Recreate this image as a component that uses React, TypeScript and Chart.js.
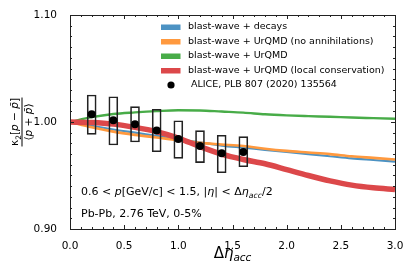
import React, { useEffect, useRef } from "react";
import { Chart, registerables } from "chart.js";
Chart.register(...registerables);

// ---------- data ----------
const etaGrid = [0, 0.2, 0.4, 0.6, 0.8, 1.0, 1.2, 1.4, 1.6, 1.8, 2.0, 2.2, 2.4, 2.6, 2.8, 3.0];
const blueDecays = [1.0, 0.9965, 0.993, 0.99, 0.987, 0.984, 0.981, 0.978, 0.976, 0.974, 0.972, 0.97, 0.968, 0.966, 0.9645, 0.963];
const orangeNoAnnihilation = [1.0, 0.995, 0.991, 0.988, 0.9855, 0.983, 0.9805, 0.979, 0.9775, 0.975, 0.973, 0.9715, 0.97, 0.968, 0.9665, 0.965];
const greenUrqmd = [1.0, 1.0045, 1.0075, 1.009, 1.0102, 1.011, 1.0108, 1.0098, 1.0088, 1.0072, 1.0062, 1.0055, 1.0049, 1.0042, 1.0036, 1.003];
const redLocalConservation = [1.0, 0.9995, 0.998, 0.995, 0.991, 0.985, 0.977, 0.97, 0.965, 0.961, 0.9555, 0.95, 0.945, 0.941, 0.9385, 0.937];

const aliceEta = [0.2, 0.4, 0.6, 0.8, 1.0, 1.2, 1.4, 1.6];
const aliceValue = [1.0072, 1.0016, 0.998, 0.992, 0.984, 0.9776, 0.9707, 0.972];
const aliceSysLow = [0.9885, 0.9785, 0.9813, 0.9722, 0.966, 0.962, 0.9526, 0.9582];
const aliceSysHigh = [1.0252, 1.0236, 1.0143, 1.0119, 1.0012, 0.9919, 0.9876, 0.9863];

const legendLabels = [
  "blast-wave + decays",
  "blast-wave + UrQMD (no annihilations)",
  "blast-wave + UrQMD",
  "blast-wave + UrQMD (local conservation)",
  "ALICE, PLB 807 (2020) 135564",
];

const xTickValues = [0, 0.5, 1.0, 1.5, 2.0, 2.5, 3.0];
const yTickValues = [0.9, 1.0, 1.1];

// ---------- style ----------
const FONT = '"DejaVu Sans"';
const C_BLUE = "rgb(76,146,195)";
const C_ORANGE = "rgb(255,153,62)";
const C_GREEN = "rgb(72,172,72)";
const C_RED = "rgb(220,72,74)";
const legendColors = [C_BLUE, C_ORANGE, C_GREEN, C_RED];

type Run = { t: string; f: string; dy?: number };
function runsWidth(ctx: CanvasRenderingContext2D, runs: Run[]) {
  let w = 0;
  for (const r of runs) {
    ctx.font = r.f;
    w += ctx.measureText(r.t).width;
  }
  return w;
}
function drawRuns(ctx: CanvasRenderingContext2D, runs: Run[], x: number, y: number, align: "left" | "center") {
  const w = runsWidth(ctx, runs);
  let cx = align === "center" ? x - w / 2 : x;
  ctx.textAlign = "left";
  ctx.textBaseline = "alphabetic";
  for (const r of runs) {
    ctx.font = r.f;
    ctx.fillText(r.t, cx, y + (r.dy || 0));
    cx += ctx.measureText(r.t).width;
  }
  return w;
}

const f = (s: number) => `${s}px ${FONT}`;
const fi = (s: number) => `italic ${s}px ${FONT}`;

const decorPlugin = {
  id: "decor",
  afterDatasetsDraw(chart: any) {
    const ctx: CanvasRenderingContext2D = chart.ctx;
    const { left, right, top, bottom } = chart.chartArea;
    const xs = chart.scales.x;
    const ys = chart.scales.y;
    ctx.save();
    ctx.fillStyle = "#000";
    ctx.strokeStyle = "#222";
    ctx.lineWidth = 1;
    // frame
    ctx.strokeRect(Math.round(left) + 0.5, Math.round(top) + 0.5, Math.round(right - left), Math.round(bottom - top));
    // ticks (inward)
    ctx.beginPath();
    for (let i = 0; i <= 30; i++) {
      const v = i / 10;
      const px = Math.round(xs.getPixelForValue(v)) + 0.5;
      const len = i % 5 === 0 ? 4 : 2;
      ctx.moveTo(px, bottom);
      ctx.lineTo(px, bottom - len);
      ctx.moveTo(px, top);
      ctx.lineTo(px, top + len);
    }
    for (let i = 0; i <= 20; i++) {
      const v = 0.9 + i / 100;
      const py = Math.round(ys.getPixelForValue(v)) + 0.5;
      const len = i % 10 === 0 ? 4 : 2;
      ctx.moveTo(left, py);
      ctx.lineTo(left + len, py);
      ctx.moveTo(right, py);
      ctx.lineTo(right - len, py);
    }
    ctx.stroke();

    // legend
    const lx = 161;
    const rowY = [27, 41.5, 56, 70.5, 85];
    for (let i = 0; i < 4; i++) {
      ctx.fillStyle = legendColors[i];
      ctx.fillRect(lx, rowY[i] - 2.5, 19.5, 5.5);
    }
    ctx.fillStyle = "#000";
    ctx.beginPath();
    ctx.arc(171, rowY[4], 3.6, 0, Math.PI * 2);
    ctx.fill();
    ctx.font = f(9.5);
    ctx.textBaseline = "middle";
    ctx.textAlign = "left";
    for (let i = 0; i < 5; i++) {
      ctx.fillText(legendLabels[i], i === 4 ? 191 : 188, rowY[i]);
    }

    // annotations
    ctx.fillStyle = "#000";
    drawRuns(
      ctx,
      [
        { t: "0.6 < ", f: f(11) },
        { t: "p", f: fi(11) },
        { t: "[GeV/c] < 1.5, |", f: f(11) },
        { t: "η", f: fi(11) },
        { t: "| < Δ", f: f(11) },
        { t: "η", f: fi(11) },
        { t: "acc", f: fi(7.8), dy: 2.5 },
        { t: "/2", f: f(11) },
      ],
      81,
      195,
      "left"
    );
    drawRuns(ctx, [{ t: "Pb-Pb, 2.76 TeV, 0-5%", f: f(11) }], 81, 217, "left");

    // x-axis title
    drawRuns(
      ctx,
      [
        { t: "Δ", f: f(15) },
        { t: "η", f: fi(15) },
        { t: "acc", f: fi(10.5), dy: 3 },
      ],
      (left + right) / 2,
      258,
      "center"
    );

    // y-axis title (fraction, rotated)
    ctx.translate(22, (top + bottom) / 2);
    ctx.rotate(-Math.PI / 2);
    const num: Run[] = [
      { t: "κ", f: f(10.5) },
      { t: "2", f: f(7.5), dy: 2.5 },
      { t: "[", f: f(10.5) },
      { t: "p", f: fi(10.5) },
      { t: " − ", f: f(10.5) },
      { t: "p\u0304", f: fi(10.5) },
      { t: "]", f: f(10.5) },
    ];
    const den: Run[] = [
      { t: "⟨", f: f(10.5) },
      { t: "p", f: fi(10.5) },
      { t: " + ", f: f(10.5) },
      { t: "p\u0304", f: fi(10.5) },
      { t: "⟩", f: f(10.5) },
    ];
    const wn = drawRuns(ctx, num, 0, -4, "center");
    const wd = drawRuns(ctx, den, 0, 9.5, "center");
    const wb = Math.max(wn, wd) + 1;
    ctx.fillRect(-wb / 2, -0.5, wb, 1);
    ctx.restore();
  },
};

const xy = (xsArr: number[], ysArr: number[]) => xsArr.map((x, i) => ({ x, y: ysArr[i] }));

export default function App() {
  const ref = useRef<HTMLCanvasElement>(null);
  useEffect(() => {
    if (!ref.current) return;
    const lineDs = (label: string, data: number[], color: string, width: number, order: number) => ({
      type: "line" as const,
      label,
      data: xy(etaGrid, data),
      borderColor: color,
      backgroundColor: color,
      borderWidth: width,
      pointRadius: 0,
      cubicInterpolationMode: "monotone" as const,
      fill: false,
      order,
      borderCapStyle: "butt" as const,
    });
    const chart = new Chart(ref.current, {
      type: "line",
      data: {
        datasets: [
          lineDs(legendLabels[0], blueDecays, C_BLUE, 2.2, 6),
          lineDs(legendLabels[1], orangeNoAnnihilation, C_ORANGE, 2.6, 5),
          lineDs(legendLabels[2], greenUrqmd, C_GREEN, 2.4, 4),
          lineDs(legendLabels[3], redLocalConservation, C_RED, 5.5, 3),
          {
            type: "bar" as const,
            label: "sys",
            data: aliceEta.map((x, i) => ({ x, y: [aliceSysLow[i], aliceSysHigh[i]] })) as any,
            backgroundColor: "rgba(0,0,0,0)",
            borderColor: "#222",
            borderWidth: 1,
            borderSkipped: false,
            barThickness: 9,
            grouped: false,
            order: 2,
          } as any,
          {
            type: "line" as const,
            label: legendLabels[4],
            data: xy(aliceEta, aliceValue),
            showLine: false,
            pointRadius: 4,
            pointBackgroundColor: "#000",
            pointBorderWidth: 0,
            borderColor: "#000",
            order: 1,
          },
        ],
      },
      options: {
        animation: false,
        responsive: false,
        maintainAspectRatio: false,
        layout: { padding: { left: 0, top: 15, right: 20, bottom: 0 } },
        plugins: { legend: { display: false }, tooltip: { enabled: false } },
        scales: {
          x: {
            type: "linear",
            min: 0,
            max: 3,
            offset: false,
            grid: { display: false },
            border: { display: false },
            afterBuildTicks: (s: any) => {
              s.ticks = xTickValues.map((v) => ({ value: v }));
            },
            ticks: {
              callback: (v: any) => Number(v).toFixed(1),
              font: { family: "DejaVu Sans", size: 10.5 },
              color: "#000",
              padding: 3,
              maxRotation: 0,
              autoSkip: false,
            },
            afterFit: (s: any) => {
              s.height = 48;
            },
          },
          y: {
            type: "linear",
            min: 0.9,
            max: 1.1,
            grid: { display: false },
            border: { display: false },
            afterBuildTicks: (s: any) => {
              s.ticks = yTickValues.map((v) => ({ value: v }));
            },
            ticks: {
              callback: (v: any) => Number(v).toFixed(2),
              font: { family: "DejaVu Sans", size: 10.5 },
              color: "#000",
              padding: 5,
              autoSkip: false,
            },
            afterFit: (s: any) => {
              s.width = 70;
            },
          },
        },
      } as any,
      plugins: [decorPlugin],
    });
    return () => chart.destroy();
  }, []);
  return (
    <div style={{ position: "fixed", left: 0, top: 0, width: 415, height: 277, background: "#fff" }}>
      <canvas ref={ref} width={415} height={277} style={{ width: 415, height: 277, display: "block" }} />
    </div>
  );
}
